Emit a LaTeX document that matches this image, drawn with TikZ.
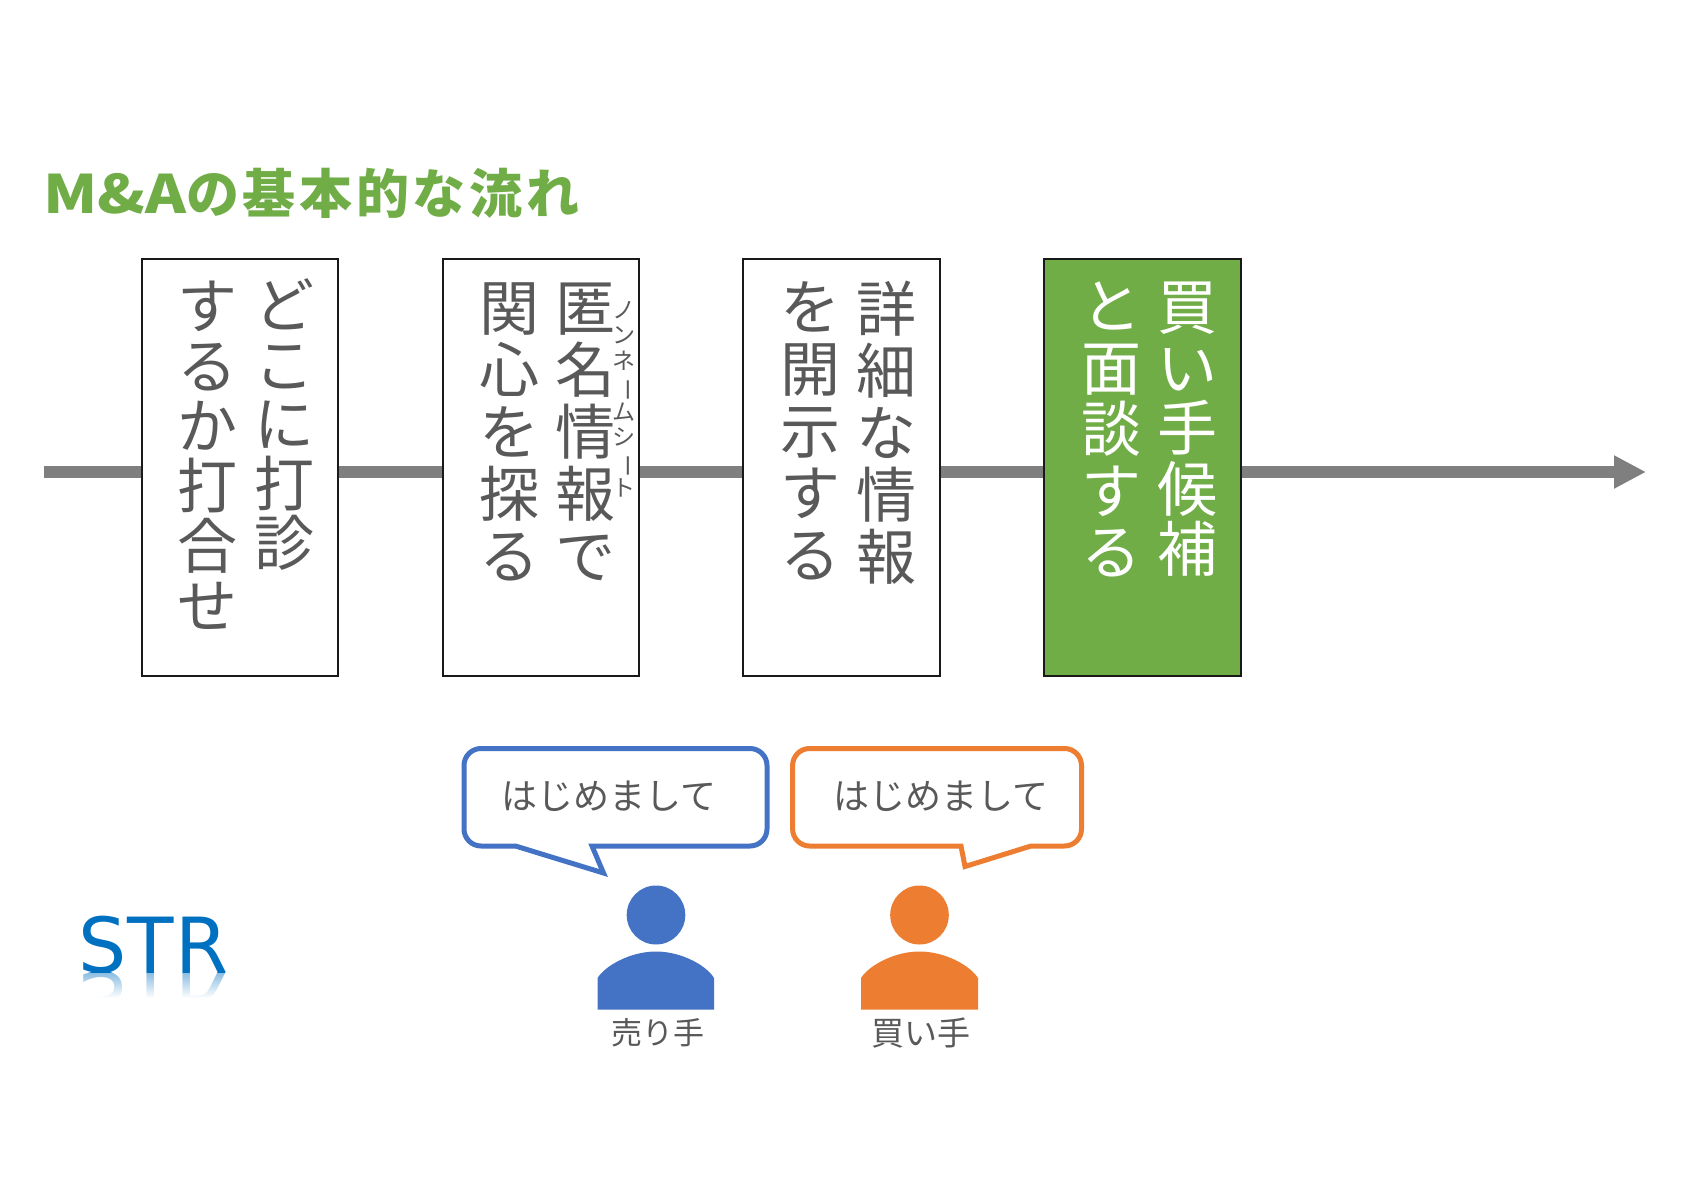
\documentclass[tikz,border=0pt]{standalone}
\usepackage{fontspec}
\setmainfont{Noto Sans CJK JP}
\newfontfamily\strfont[LetterSpace=2]{DejaVu Sans}
\usetikzlibrary{arrows.meta,fadings}
\definecolor{txtgray}{HTML}{595959}
\definecolor{flowgray}{HTML}{7F7F7F}
\definecolor{mygreen}{HTML}{70AD47}
\definecolor{myblue}{HTML}{4472C4}
\definecolor{myorange}{HTML}{ED7D31}
\definecolor{strblue}{HTML}{0070C0}
\tikzfading[name=reflectfade, top color=transparent!45, bottom color=transparent!0]
\tikzset{
  x=1pt,y=-1pt,
  stepbox/.style={draw=black!90,line width=2pt,minimum width=196.5pt,minimum height=416.5pt,inner sep=0pt,fill=white},
  col/.style={anchor=north,align=center,inner sep=0pt,text=txtgray,font=\fontsize{60}{62}\selectfont},
  coltight/.style={col,font=\fontsize{60}{60}\selectfont},
  rubytext/.style={anchor=north,align=center,inner sep=0pt,text=txtgray,font=\fontsize{23}{25.5}\selectfont},
  talk/.style={line width=5pt,fill=white,miter limit=10},
  talktext/.style={inner sep=0pt,text=txtgray,font=\fontsize{36}{40}\selectfont},
  who/.style={inner sep=0pt,text=txtgray,font=\fontsize{31}{36}\selectfont},
}
\begin{document}
\begin{tikzpicture}
\useasboundingbox (0,0) rectangle (1684,1191);
\fill[white] (0,0) rectangle (1684,1191);
% title
\node[anchor=west,inner sep=0pt,text=mygreen,font=\fontsize{53}{60}\selectfont\bfseries] (title) at (43,193) {\scalebox{1.17}[1]{M\&A}{\addfontfeature{LetterSpace=6.8}の基本的な流れ}};
% flow arrow
\coordinate (flowstart) at (44,472);
\coordinate (flowend) at (1646,472);
\draw[flowgray,line width=11.5pt,-{Triangle[length=32pt,width=31pt]}] (flowstart) -- (flowend);
% boxes
\node[stepbox] (b1) at (240,467.3) {};
\node[stepbox] (b2) at (540.8,467.3) {};
\node[stepbox] (b3) at (841.5,467.3) {};
\node[stepbox,fill=mygreen] (b4) at (1142.3,467.3) {};
% vertical texts
\node[coltight,font=\fontsize{60}{59.5}\selectfont] (b1a) at (284.6,278.5) {ど\\こ\\に\\打\\診};
\node[coltight] (b1b) at (207.5,280.5) {す\\る\\か\\打\\合\\せ};
\node[col] (b2a) at (585,282.5) {匿\\名\\情\\報\\で};
\node[col] (b2b) at (509,282) {関\\心\\を\\探\\る};
\node[rubytext] (b2r) at (624,301) {ノ\\ン\\ネ\\\rotatebox[origin=c]{-90}{ー}\\ム\\シ\\\rotatebox[origin=c]{-90}{ー}\\ト};
\node[col] (b3a) at (886,280.5) {詳\\細\\な\\情\\報};
\node[col] (b3b) at (810.5,281) {を\\開\\示\\す\\る};
\node[coltight,font=\fontsize{60}{60.5}\selectfont,text=white] (b4a) at (1187,282) {買\\い\\手\\候\\補};
\node[coltight,font=\fontsize{60}{61.5}\selectfont,text=white] (b4b) at (1111.5,282) {と\\面\\談\\す\\る};
% speech bubbles
\draw[talk,draw=myblue] (515.5,846) -- (603.5,873) -- (592,846) -- (700,846) [rounded corners=17pt] -- (767,846) -- (767,748.5) -- (464,748.5) -- (464,846) [sharp corners] -- (515.5,846) -- cycle;
\node[talktext] (t1) at (609,796) {はじめまして};
\draw[talk,draw=myorange] (1031,846) -- (965,866.5) -- (961,846) -- (850,846) [rounded corners=17pt] -- (792.6,846) -- (792.6,748.5) -- (1081.5,748.5) -- (1081.5,846) [sharp corners] -- (1031,846) -- cycle;
\node[talktext] (t2) at (941,796) {はじめまして};
% people
\fill[myblue] (656,915) ellipse (29.3pt and 29.5pt);
\fill[myblue] (597.5,1009.5) -- (597.5,978) .. controls (605,966) and (630,951.5) .. (656,951.5) .. controls (682,951.5) and (707,966) .. (714,978) -- (714,1009.5) -- cycle;
\node[who] (p1) at (657.5,1033) {売り手};
\fill[myorange] (919.5,915) ellipse (29.3pt and 29.5pt);
\fill[myorange] (861,1009.5) -- (861,978) .. controls (868.5,966) and (893.5,951.5) .. (919.5,951.5) .. controls (945.5,951.5) and (970.5,966) .. (978,978) -- (978,1009.5) -- cycle;
\node[who,font=\fontsize{33}{36}\selectfont] (p2) at (920.5,1033) {買い手};
% STR logo
\node[anchor=base west,inner sep=0pt,text=strblue,font=\fontsize{76}{80}\selectfont\strfont] (str) at (78,972) {STR};
\node[anchor=base west,inner sep=0pt,text=strblue,font=\fontsize{76}{80}\selectfont\strfont,yscale=-1] (strr) at (78,972) {STR};
\fill[white,path fading=reflectfade] (70,973) rectangle (240,998);
\fill[white] (70,998) rectangle (240,1030);
\end{tikzpicture}
\end{document}
